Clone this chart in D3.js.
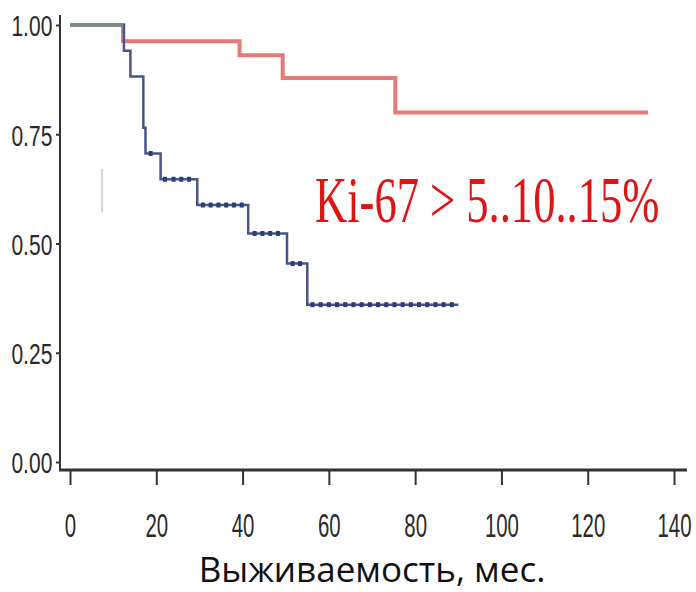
<!DOCTYPE html>
<html>
<head>
<meta charset="utf-8">
<script src="https://cdn.jsdelivr.net/npm/d3@7"></script>
<style>
  body { margin: 0; background: #fff; }
  svg { display: block; }
</style>
</head>
<body>
<div id="chart"></div>
<script>
// Kaplan-Meier curves
const redTimes = [0, 12.3, 39.3, 49.3, 75.4];
const redSurv = [1.0, 0.963, 0.931, 0.879, 0.80];
const redEnd = 134;

const blueTimes = [0, 12.5, 14, 17, 17.5, 21, 29.5, 41.3, 50.3, 55];
const blueSurv = [1.0, 0.941, 0.882, 0.765, 0.706, 0.647, 0.588, 0.523, 0.454, 0.36];
const blueEnd = 90;

const blueCensor = [18.7, 22, 24, 25.8, 27.6, 30.8, 32.6, 34.4, 36.2, 38, 39.8,
  42.8, 44.6, 46.4, 48.2, 51.6, 53.3, 56.2, 58.1, 60, 61.9, 63.8, 65.7, 67.6,
  69.5, 71.4, 73.3, 75.2, 77.1, 79, 80.9, 82.8, 84.7, 86.6, 88.5];

const xTicks = [0, 20, 40, 60, 80, 100, 120, 140];
const yTicks = [0, 0.25, 0.5, 0.75, 1.0];
const xTitle = "Выживаемость, мес.";
const note = "Ki-67 > 5..10..15%";

const width = 696, height = 592;
const svg = d3.select("#chart").append("svg")
  .attr("width", width)
  .attr("height", height);

const x = d3.scaleLinear().domain([0, 140]).range([70, 674]);
const y = d3.scaleLinear().domain([0, 1]).range([462, 25]);

function stepPoints(times, surv, end) {
  const pts = [];
  times.forEach((t, i) => {
    if (i > 0) pts.push([t, surv[i - 1]]);
    pts.push([t, surv[i]]);
  });
  pts.push([end, surv[surv.length - 1]]);
  return pts;
}

function survAt(times, surv, t) {
  let v = surv[0];
  times.forEach((tt, i) => { if (tt <= t) v = surv[i]; });
  return v;
}

const line = d3.line().x(d => x(d[0])).y(d => y(d[1]));

// stray mark in the scan
svg.append("line")
  .attr("x1", 102).attr("x2", 102).attr("y1", 169).attr("y2", 212)
  .attr("stroke", "#c8c8c8").attr("stroke-width", 1.5);

// axes
const yAxis = svg.append("g")
  .attr("transform", "translate(60,0)")
  .call(d3.axisLeft(y).tickValues(yTicks).tickSize(4).tickFormat(d3.format(".2f")));
yAxis.select(".domain").remove();
yAxis.selectAll(".tick line").attr("stroke", "#333").attr("stroke-width", 2);
yAxis.selectAll(".tick text")
  .attr("x", -11)
  .attr("dy", "0.36em")
  .attr("transform", "scale(0.7,1)")
  .attr("fill", "#2a2a2a")
  .style("font-family", "Liberation Sans, Arial, sans-serif")
  .style("font-size", "30px");

svg.append("line")
  .attr("x1", 60).attr("x2", 60).attr("y1", 15).attr("y2", 471)
  .attr("stroke", "#333").attr("stroke-width", 2);

const xAxis = svg.append("g")
  .attr("transform", "translate(0,470)")
  .call(d3.axisBottom(x).tickValues(xTicks).tickSize(15));
xAxis.select(".domain").remove();
xAxis.selectAll(".tick line").attr("stroke", "#333").attr("stroke-width", 2);
xAxis.selectAll(".tick text")
  .attr("y", 67)
  .attr("dy", 0)
  .attr("transform", "scale(0.6,1)")
  .attr("fill", "#2a2a2a")
  .style("font-family", "Liberation Sans, Arial, sans-serif")
  .style("font-size", "34px");

svg.append("line")
  .attr("x1", 59).attr("x2", 687).attr("y1", 470).attr("y2", 470)
  .attr("stroke", "#333").attr("stroke-width", 3);

// curves
svg.append("path")
  .attr("d", line(stepPoints(redTimes, redSurv, redEnd)))
  .attr("fill", "none")
  .attr("stroke", "#e47a7a")
  .attr("stroke-width", 4);

svg.append("path")
  .attr("d", line(stepPoints(blueTimes, blueSurv, blueEnd)))
  .attr("fill", "none")
  .attr("stroke", "#45568a")
  .attr("stroke-width", 2.5);

// shared start of both curves
const shared = Math.min(redTimes[1], blueTimes[1]);
svg.append("path")
  .attr("d", line([[0, 1], [shared, 1]]))
  .attr("fill", "none")
  .attr("stroke", "#6f8f86")
  .attr("stroke-width", 3.5);

svg.append("g")
  .selectAll("rect")
  .data(blueCensor)
  .join("rect")
  .attr("x", d => x(d) - 2)
  .attr("y", d => y(survAt(blueTimes, blueSurv, d)) - 2.5)
  .attr("width", 4)
  .attr("height", 5)
  .attr("fill", "#2f3d6e");

// annotation
svg.append("text")
  .attr("transform", "translate(315,222) scale(0.675,1)")
  .attr("fill", "#e01414")
  .style("font-family", "Liberation Serif, Times New Roman, serif")
  .style("font-size", "66px")
  .text(note);

svg.append("text")
  .attr("x", 372)
  .attr("y", 582)
  .attr("text-anchor", "middle")
  .attr("fill", "#111")
  .style("font-family", "Open Sans, sans-serif")
  .style("font-size", "35px")
  .text(xTitle);
</script>
</body>
</html>
